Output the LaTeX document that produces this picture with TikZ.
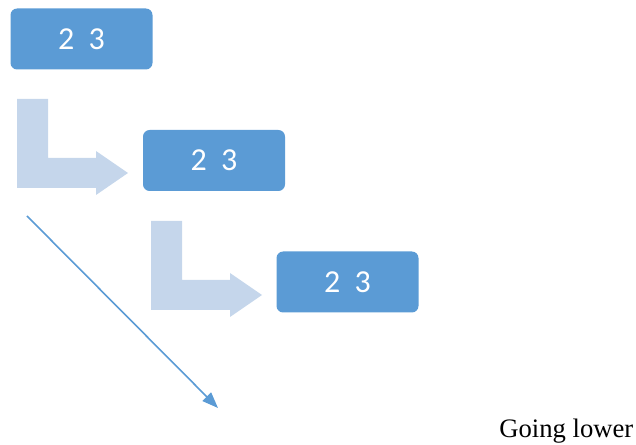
\documentclass[tikz,border=0pt]{standalone}
\usepackage{fontspec}
\setmainfont{Liberation Serif}
\newfontfamily\boxfont{Carlito}
\usepackage{tikz}
\usetikzlibrary{arrows.meta}

\definecolor{boxblue}{RGB}{91,155,213}
\definecolor{paleblue}{RGB}{197,214,235}

\tikzset{
  stepbox/.style={fill=boxblue, rounded corners=5pt, inner sep=0pt,
    minimum width=106.5pt, minimum height=45.75pt,
    text=white, font=\boxfont\fontsize{24}{28}\selectfont},
  bent/.style={fill=paleblue},
  lower/.style={draw=boxblue, line width=1.2pt, -{Triangle[length=12pt,width=9pt]}}
}

\begin{document}
\begin{tikzpicture}[x=0.75pt,y=-0.75pt]
\useasboundingbox (0,0) rectangle (636,445);

% boxes
\node[stepbox] (b1) at (81.5,39) {2\ \ 3};
\node[stepbox] (b2) at (214,160.5) {2\ \ 3};
\node[stepbox] (b3) at (347.5,282) {2\ \ 3};

% bent arrows
\fill[bent] (17,99) -- (48,99) -- (48,158) -- (96,158) -- (96,151) -- (128,173)
  -- (96,195) -- (96,188) -- (17,188) -- cycle;
\fill[bent,shift={(134,122)}] (17,99) -- (48,99) -- (48,158) -- (96,158) -- (96,151) -- (128,173)
  -- (96,195) -- (96,188) -- (17,188) -- cycle;

% diagonal arrow
\coordinate (top) at (27,216);
\coordinate (tip) at (218,408);
\draw[lower] (top) -- (tip);

% caption
\node[anchor=base west, inner sep=0pt, font=\fontsize{20}{24}\selectfont] (cap) at (499,437) {Going lower};

\end{tikzpicture}
\end{document}
